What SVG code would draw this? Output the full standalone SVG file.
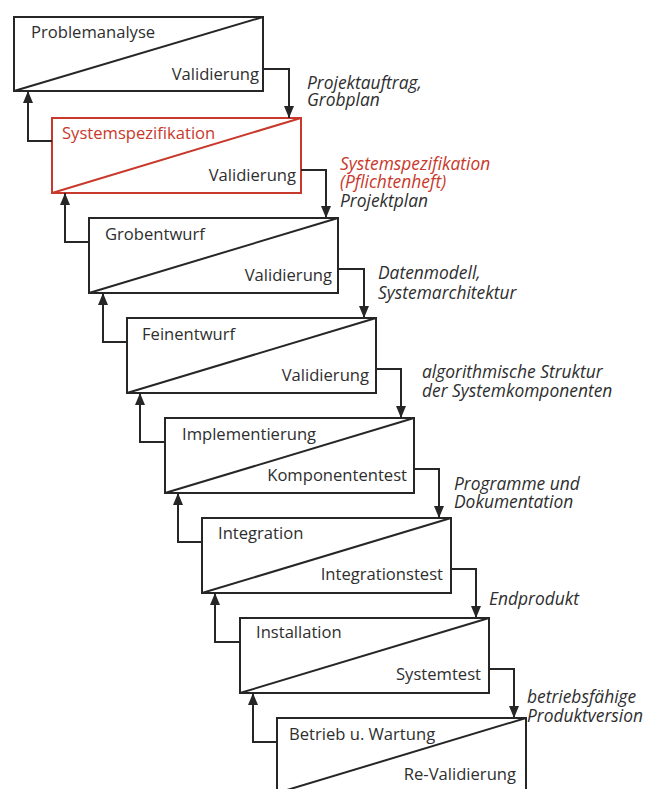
<svg xmlns="http://www.w3.org/2000/svg" width="645" height="789" viewBox="0 0 645 789">
  <style>
    .box { fill: #ffffff; stroke: #262626; stroke-width: 2; }
    .diag { stroke: #262626; stroke-width: 2; fill: none; }
    .red .box, .red .diag { stroke: #c8392b; }
    .t { font-family: "Open Sans", "Noto Sans", sans-serif; font-size: 16.6px; fill: #2e2e2e; }
    .t.title-red { fill: #c8392b; }
    .end { text-anchor: end; }
    .note { font-family: "Open Sans", "Noto Sans", sans-serif; font-size: 17.4px; font-style: italic; fill: #2e2e2e; }
    .note.red { fill: #c8392b; }
    .conn { stroke: #262626; stroke-width: 2; fill: none; marker-end: url(#arrow); }
  </style>
  <defs>
    <marker id="arrow" markerUnits="userSpaceOnUse" viewBox="0 0 12 10" refX="12" refY="5" markerWidth="12" markerHeight="10" orient="auto">
      <path d="M0,0 L12,5 L0,10 z" fill="#262626"/>
    </marker>
  </defs>

  <!-- phases of the waterfall -->
  <g id="problemanalyse">
    <rect class="box" x="14" y="17" width="249" height="74"/>
    <line class="diag" x1="14" y1="91" x2="263" y2="17"/>
    <text class="t" x="31" y="38">Problemanalyse</text>
    <text class="t end" x="259" y="80">Validierung</text>
  </g>
  <g id="systemspezifikation" class="red">
    <rect class="box" x="52" y="118" width="249" height="75"/>
    <line class="diag" x1="52" y1="193" x2="301" y2="118"/>
    <text class="t title-red" x="62" y="139">Systemspezifikation</text>
    <text class="t end" x="296" y="181">Validierung</text>
  </g>
  <g id="grobentwurf">
    <rect class="box" x="89" y="218" width="249" height="75"/>
    <line class="diag" x1="89" y1="293" x2="338" y2="218"/>
    <text class="t" x="105" y="240">Grobentwurf</text>
    <text class="t end" x="332" y="281">Validierung</text>
  </g>
  <g id="feinentwurf">
    <rect class="box" x="127" y="318" width="249" height="75"/>
    <line class="diag" x1="127" y1="393" x2="376" y2="318"/>
    <text class="t" x="142" y="340">Feinentwurf</text>
    <text class="t end" x="369" y="381">Validierung</text>
  </g>
  <g id="implementierung">
    <rect class="box" x="165" y="418" width="249" height="75"/>
    <line class="diag" x1="165" y1="493" x2="414" y2="418"/>
    <text class="t" x="182" y="440">Implementierung</text>
    <text class="t end" x="407" y="481">Komponententest</text>
  </g>
  <g id="integration">
    <rect class="box" x="202" y="518" width="249" height="75"/>
    <line class="diag" x1="202" y1="593" x2="451" y2="518"/>
    <text class="t" x="218" y="539">Integration</text>
    <text class="t end" x="443" y="580">Integrationstest</text>
  </g>
  <g id="installation">
    <rect class="box" x="240" y="618" width="249" height="75"/>
    <line class="diag" x1="240" y1="693" x2="489" y2="618"/>
    <text class="t" x="256" y="638">Installation</text>
    <text class="t end" x="481" y="680">Systemtest</text>
  </g>
  <g id="betrieb">
    <rect class="box" x="277" y="718" width="249" height="75"/>
    <line class="diag" x1="277" y1="793" x2="526" y2="718"/>
    <text class="t" x="289" y="740">Betrieb u. Wartung</text>
    <text class="t end" x="516" y="780">Re-Validierung</text>
  </g>

  <!-- forward hand-over and backward feedback connectors -->
  <g id="connectors">
    <path class="conn" d="M263,69 H289 V118"/>
    <path class="conn" d="M301,170 H326 V218"/>
    <path class="conn" d="M338,269 H364 V318"/>
    <path class="conn" d="M376,369 H401 V418"/>
    <path class="conn" d="M414,469 H439 V518"/>
    <path class="conn" d="M451,569 H476 V618"/>
    <path class="conn" d="M489,669 H514 V718"/>

    <path class="conn" d="M52,141 H28 V91"/>
    <path class="conn" d="M89,242 H65 V193"/>
    <path class="conn" d="M127,342 H103 V293"/>
    <path class="conn" d="M165,442 H140 V393"/>
    <path class="conn" d="M202,542 H178 V493"/>
    <path class="conn" d="M240,642 H215 V593"/>
    <path class="conn" d="M277,742 H253 V693"/>
  </g>

  <!-- results passed between phases -->
  <g id="results">
    <text class="note" x="307" y="89">Projektauftrag,</text>
    <text class="note" x="307" y="106">Grobplan</text>
    <text class="note red" x="340" y="170">Systemspezifikation</text>
    <text class="note red" x="340" y="188">(Pflichtenheft)</text>
    <text class="note" x="340" y="207">Projektplan</text>
    <text class="note" x="378" y="279">Datenmodell,</text>
    <text class="note" x="378" y="299">Systemarchitektur</text>
    <text class="note" x="422" y="378">algorithmische Struktur</text>
    <text class="note" x="422" y="397">der Systemkomponenten</text>
    <text class="note" x="454" y="490">Programme und</text>
    <text class="note" x="454" y="508">Dokumentation</text>
    <text class="note" x="489" y="605">Endprodukt</text>
    <text class="note" x="527" y="703">betriebsfähige</text>
    <text class="note" x="527" y="722">Produktversion</text>
  </g>
</svg>
